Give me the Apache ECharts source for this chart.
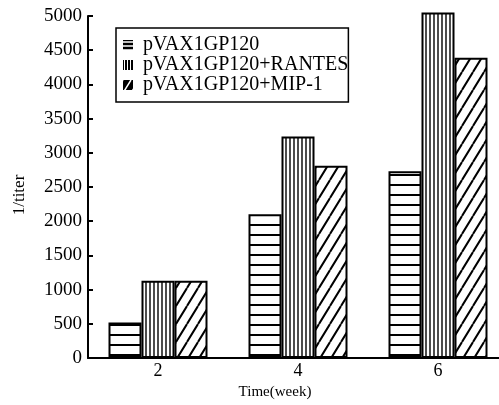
<!DOCTYPE html>
<html>
<head>
    <meta charset="utf-8">
    <script src="https://cdn.jsdelivr.net/npm/echarts@6/dist/echarts.min.js"></script>
    <style>
    html, body { margin: 0; padding: 0; background: #fff; overflow: hidden; }
    /* a bit wider than the window so the last category band runs off the edge like the scan */
    #main { width: 508px; height: 405px; }
    </style>
    <title>1/titer by week</title>
</head>
<body>
    <div id="main"></div>
    <script type="text/javascript">

        var weeks = ['2', '4', '6'];
        var names = ['pVAX1GP120', 'pVAX1GP120+RANTES', 'pVAX1GP120+MIP-1'];
        var gp120 = [520, 2100, 2730];
        var rantes = [1130, 3240, 5050];
        var mip1 = [1130, 2810, 4390];

        // hatch fills drawn on small canvases
        function hatch(kind, step, fg, bg, lw) {
            var c = document.createElement('canvas');
            var w = step, h = step;
            if (kind === 'd') { w = step; h = Math.round(step * 1.6); }
            c.width = w; c.height = h;
            var g = c.getContext('2d');
            g.fillStyle = bg;
            g.fillRect(0, 0, w, h);
            g.strokeStyle = fg;
            g.lineWidth = lw;
            g.beginPath();
            if (kind === 'h') {
                g.moveTo(0, h / 2); g.lineTo(w, h / 2);
            } else if (kind === 'v') {
                g.moveTo(w / 2, 0); g.lineTo(w / 2, h);
            } else {
                g.moveTo(0, h); g.lineTo(w, 0);
                g.moveTo(-w, h); g.lineTo(0, 0);
                g.moveTo(w, h); g.lineTo(2 * w, 0);
            }
            g.stroke();
            return { image: c, repeat: 'repeat' };
        }

        var fills = [hatch('h', 10, '#000', '#fff', 2), hatch('v', 4, '#000', '#fff', 1.4), hatch('d', 11, '#000', '#fff', 2)];
        var icons = [hatch('h', 4, '#fff', '#000', 1.5), hatch('v', 3, '#fff', '#000', 1), hatch('d', 8, '#fff', '#000', 1.5)];
        var values = [gp120, rantes, mip1];

        var font = 'Liberation Serif';
        var myChart = echarts.init(document.getElementById('main'));

        var series = [];
        for (var i = 0; i < names.length; i++) {
            series.push({
                name: names[i],
                type: 'bar',
                barWidth: 33,
                barGap: '0%',
                clip: false,
                itemStyle: { color: fills[i], borderColor: '#000', borderWidth: 2 },
                data: values[i]
            });
        }

        var option = {
            animation: false,
            backgroundColor: '#fff',
            grid: { left: 88, top: 16, bottom: 43, right: 0 },
            legend: {
                orient: 'vertical',
                left: 116,
                top: 28,
                padding: [7, 0, 7, 7],
                itemGap: 0,
                itemWidth: 10,
                itemHeight: 10,
                borderColor: '#000',
                borderWidth: 1.5,
                textStyle: { fontFamily: font, fontSize: 20, color: '#000', lineHeight: 18, padding: [0, 0, 0, 5] },
                data: names.map(function (n, k) {
                    return { name: n, icon: 'rect', itemStyle: { color: icons[k], borderWidth: 0 } };
                })
            },
            xAxis: {
                type: 'category',
                data: weeks,
                name: 'Time(week)',
                nameLocation: 'middle',
                nameGap: 27,
                nameTextStyle: { fontFamily: font, fontSize: 15, color: '#000', padding: [0, 46, 0, 0] },
                axisLine: { lineStyle: { color: '#000', width: 2 } },
                axisTick: { inside: true, length: 5, lineStyle: { color: '#000', width: 2 } },
                axisLabel: { fontFamily: font, fontSize: 18, color: '#000', margin: 4 }
            },
            yAxis: {
                type: 'value',
                min: 0,
                max: 5000,
                interval: 500,
                name: '1/titer',
                nameLocation: 'middle',
                nameGap: 60,
                nameTextStyle: { fontFamily: font, fontSize: 17, color: '#000', padding: [0, 16, 0, 0] },
                splitLine: { show: false },
                axisLine: { show: true, lineStyle: { color: '#000', width: 2 } },
                axisTick: { show: true, inside: true, length: 5, lineStyle: { color: '#000', width: 2 } },
                axisLabel: {
                    fontFamily: font, fontSize: 19, color: '#000', margin: 6,
                    formatter: function (v) { return String(v); }
                }
            },
            series: series
        };
        myChart.setOption(option);

    </script>
</body>
</html>
